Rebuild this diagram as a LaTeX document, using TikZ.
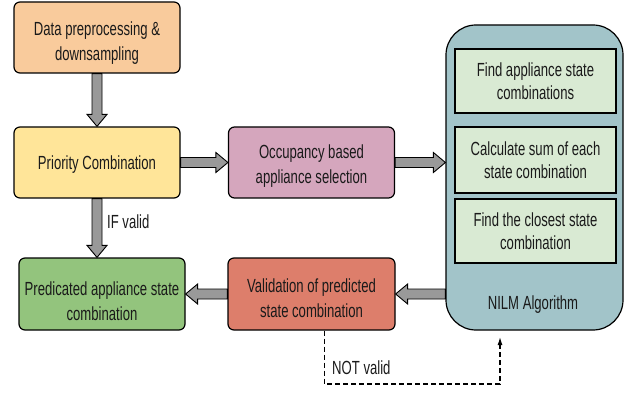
\documentclass[tikz,border=0pt]{standalone}
\usepackage{fontspec}
\setmainfont[FakeStretch=0.69]{Liberation Sans}
\usetikzlibrary{calc,arrows.meta}
\definecolor{cOrange}{HTML}{F9CB9C}
\definecolor{cYellow}{HTML}{FFE599}
\definecolor{cPink}{HTML}{D5A6BD}
\definecolor{cGreen}{HTML}{93C47D}
\definecolor{cRed}{HTML}{DD7E6B}
\definecolor{cBlue}{HTML}{A2C4C9}
\definecolor{cLight}{HTML}{D9EAD3}
\definecolor{aGray}{HTML}{999999}
\definecolor{tGray}{HTML}{1A1A1A}
\newcommand\dnstrut[1]{\rule{0pt}{#1}}
\tikzset{
 box/.style={draw=black, line width=1.2pt, rounded corners=6pt, minimum width=166pt, minimum height=71pt,
   align=center, text=tGray, font=\fontsize{19}{25}\selectfont},
 inbox/.style={draw=black, line width=1.2pt, fill=cLight, minimum width=161pt,
   align=center, text=tGray, font=\fontsize{19}{23}\selectfont},
 lbl/.style={text=tGray, font=\fontsize{19}{22}\selectfont, anchor=west, inner sep=0pt},
 blk/.style={draw=black, fill=aGray, line width=0.9pt, line join=miter,
  to path={let \p1=(\tikztostart), \p2=(\tikztotarget), \n1={veclen(\x2-\x1,\y2-\y1)},
   \p3=({(\x2-\x1)/\n1},{(\y2-\y1)/\n1}) in
   ({\x1-5*\y3},{\y1+5*\x3}) -- ({\x2-12*\x3-5*\y3},{\y2-12*\y3+5*\x3})
   -- ({\x2-12*\x3-10*\y3},{\y2-12*\y3+10*\x3}) -- (\p2)
   -- ({\x2-12*\x3+10*\y3},{\y2-12*\y3-10*\x3}) -- ({\x2-12*\x3+5*\y3},{\y2-12*\y3-5*\x3})
   -- ({\x1+5*\y3},{\y1-5*\x3}) -- cycle}},
 dsh/.style={draw=black, line width=1.2pt, dash pattern=on 5pt off 3pt, -{Latex[length=8pt,width=5pt]}}
}
\begin{document}
\begin{tikzpicture}[x=1pt,y=-1pt]
\useasboundingbox (0,0) rectangle (631,395);
\node[box, fill=cOrange] (data) at (97,37.5) {\dnstrut{25pt}Data preprocessing \&\\downsampling};
\node[box, fill=cYellow] (prio) at (97,162.5) {\dnstrut{17pt}Priority Combination};
\node[box, fill=cPink] (occ) at (311.5,162.5) {\dnstrut{20pt}Occupancy based\\appliance selection};
\node[box, fill=cGreen, minimum height=72pt] (green) at (102,294) {\dnstrut{29pt}Predicated appliance state\\combination};
\node[box, fill=cRed, minimum width=167pt, minimum height=72pt] (red) at (311.5,294) {\dnstrut{23pt}Validation of predicted\\state combination};
\node[draw=black, line width=1.2pt, fill=cBlue, rounded corners=30pt, minimum width=177pt, minimum height=305pt] (nilm) at (534.5,177.5) {};
\node[inbox, minimum height=64pt] (ia) at (535.5,81) {Find appliance state\\combinations};
\node[inbox, minimum height=66pt] (ib) at (535.5,160) {Calculate sum of each\\state combination};
\node[inbox, minimum height=64pt] (ic) at (535.5,231) {Find the closest state\\combination};
\node[text=tGray, font=\fontsize{19}{22}\selectfont] (nlab) at (533,305) {NILM Algorithm};
\draw[blk] (data.south) to (prio.north);
\draw[blk] (prio.east) to (occ.west);
\draw[blk] (occ.east) to (occ.east -| nilm.west);
\draw[blk] (nilm.west |- red.east) to (red.east);
\draw[blk] (red.west) to (green.east);
\draw[blk] (prio.south) to (prio.south |- green.north);
\node[lbl] (ifv) at (107,222) {IF valid};
\coordinate (nvend) at (500,337);
\coordinate (nvlow) at (500,384);
\draw[dsh] ([xshift=13pt]red.south) |- (nvlow) -- (nvend);
\node[lbl] (notv) at (332,368) {NOT valid};
\end{tikzpicture}
\end{document}
